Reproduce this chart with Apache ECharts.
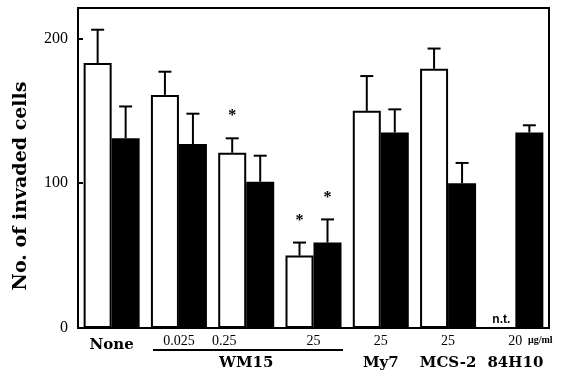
<!DOCTYPE html>
<html>
<head>
<meta charset="utf-8">
<script src="https://cdn.jsdelivr.net/npm/echarts@6/dist/echarts.min.js"></script>
<style>
  html, body { margin: 0; padding: 0; background: #fff; }
  #chart { width: 566px; height: 375px; }
</style>
</head>
<body>
<div id="chart"></div>
<script>
// doses (tick labels under each group) and group names
var doses = ['None', '0.025', '0.25', '25', '25', '25', '20']
var groupNames = ['', '', 'WM15', '', 'My7', 'MCS-2', '84H10']

// mean and upper error (SD); null = not tested
var whiteMean = [183, 161, 121, 50, 150, 179, null]
var whiteSd = [23, 16, 10, 9, 24, 14, null]
var whiteSig = [0, 0, 1, 1, 0, 0, 0]
var blackMean = [131, 127, 101, 59, 135, 100, 135]
var blackSd = [22, 21, 18, 16, 16, 14, 5]
var blackSig = [0, 0, 0, 1, 0, 0, 0]

var serif = '"Liberation Serif", "DejaVu Serif", serif'
var boldSerif = '"DejaVu Serif", "Liberation Serif", serif'
var BAR_W = 28

function errData (mean, sd, sig) {
  var out = []
  mean.forEach(function (m, i) {
    if (m != null) out.push([i, m, sd[i], sig[i]])
  })
  return out
}

function errSeries (data, offset) {
  return {
    type: 'custom',
    z: 5,
    data: data,
    encode: { x: 0, y: 1 },
    renderItem: function (params, api) {
      var i = api.value(0)
      var m = api.value(1)
      var s = api.value(2)
      var p0 = api.coord([i, m])
      var p1 = api.coord([i, m + s])
      var cx = p0[0] + offset
      var children = [
        { type: 'line', shape: { x1: cx, y1: p0[1], x2: cx, y2: p1[1] }, style: { stroke: '#000', lineWidth: 2 } },
        { type: 'line', shape: { x1: cx - 6.5, y1: p1[1], x2: cx + 6.5, y2: p1[1] }, style: { stroke: '#000', lineWidth: 2 } }
      ]
      if (api.value(3)) {
        children.push({
          type: 'text',
          style: { x: cx, y: p1[1] - 22, text: '*', fontSize: 16, fontWeight: 'bold', fontFamily: serif, fill: '#000', align: 'center', verticalAlign: 'middle' }
        })
      }
      return { type: 'group', children: children }
    }
  }
}

var whiteData = whiteMean.map(function (v) {
  if (v == null) {
    return {
      value: 0,
      label: { show: true, formatter: 'n.t.', position: 'top', distance: 1, fontSize: 12, fontWeight: 'bold', fontFamily: 'Liberation Sans, Arial, sans-serif', color: '#000' }
    }
  }
  return v
})

var chart = echarts.init(document.getElementById('chart'))

chart.setOption({
  animation: false,
  grid: { left: 78, right: 17, top: 8, bottom: 47, show: true, borderColor: '#000', borderWidth: 2 },
  xAxis: [{
    type: 'category',
    data: doses,
    axisLine: { lineStyle: { color: '#000', width: 2 } },
    axisTick: { show: false },
    axisLabel: {
      interval: 0,
      margin: 6,
      fontFamily: serif,
      fontSize: 14,
      color: '#000',
      formatter: function (v, i) {
        if (i === 0) return '{nm|None}'
        if (i === 2) return '{sh|' + v + '}'
        return v
      },
      rich: {
        nm: { fontSize: 15, fontWeight: 'bold', fontFamily: boldSerif, padding: [4, 0, 0, 0] },
        sh: { fontSize: 14, fontFamily: serif, padding: [0, 44, 0, 0] }
      }
    }
  }, {
    type: 'category',
    data: groupNames,
    position: 'bottom',
    axisLine: { show: false },
    axisTick: { show: false },
    axisLabel: { interval: 0, margin: 28, fontFamily: boldSerif, fontSize: 15, fontWeight: 'bold', color: '#000' }
  }],
  yAxis: {
    type: 'value',
    min: 0,
    max: 221,
    interval: 100,
    name: 'No. of invaded cells',
    nameLocation: 'middle',
    nameGap: 47,
    nameTextStyle: { fontFamily: boldSerif, fontSize: 19, fontWeight: 'bold', color: '#000', padding: [0, 36, 0, 0] },
    splitLine: { show: false },
    axisLine: { show: true, lineStyle: { color: '#000', width: 2 } },
    axisTick: { show: true, inside: true, length: 5, lineStyle: { color: '#000', width: 2 } },
    axisLabel: {
      margin: 10,
      fontFamily: serif,
      fontSize: 16,
      color: '#000',
      formatter: function (v) { return v % 100 === 0 ? v : '' }
    }
  },
  series: [
    {
      type: 'bar',
      data: whiteData,
      barWidth: BAR_W,
      barGap: '0%',
      itemStyle: { color: '#fff', borderColor: '#000', borderWidth: 2 }
    },
    {
      type: 'bar',
      data: blackMean,
      barWidth: BAR_W,
      barGap: '0%',
      itemStyle: { color: '#000' }
    },
    errSeries(errData(whiteMean, whiteSd, whiteSig), -BAR_W / 2),
    errSeries(errData(blackMean, blackSd, blackSig), BAR_W / 2)
  ],
  graphic: [
    { type: 'line', shape: { x1: 153, y1: 350, x2: 343, y2: 350 }, style: { stroke: '#000', lineWidth: 2 } },
    { type: 'text', x: 528, y: 335, style: { text: 'μg/ml', fontSize: 10, fontWeight: 'bold', fontFamily: serif, fill: '#000' } }
  ]
})
</script>
</body>
</html>
